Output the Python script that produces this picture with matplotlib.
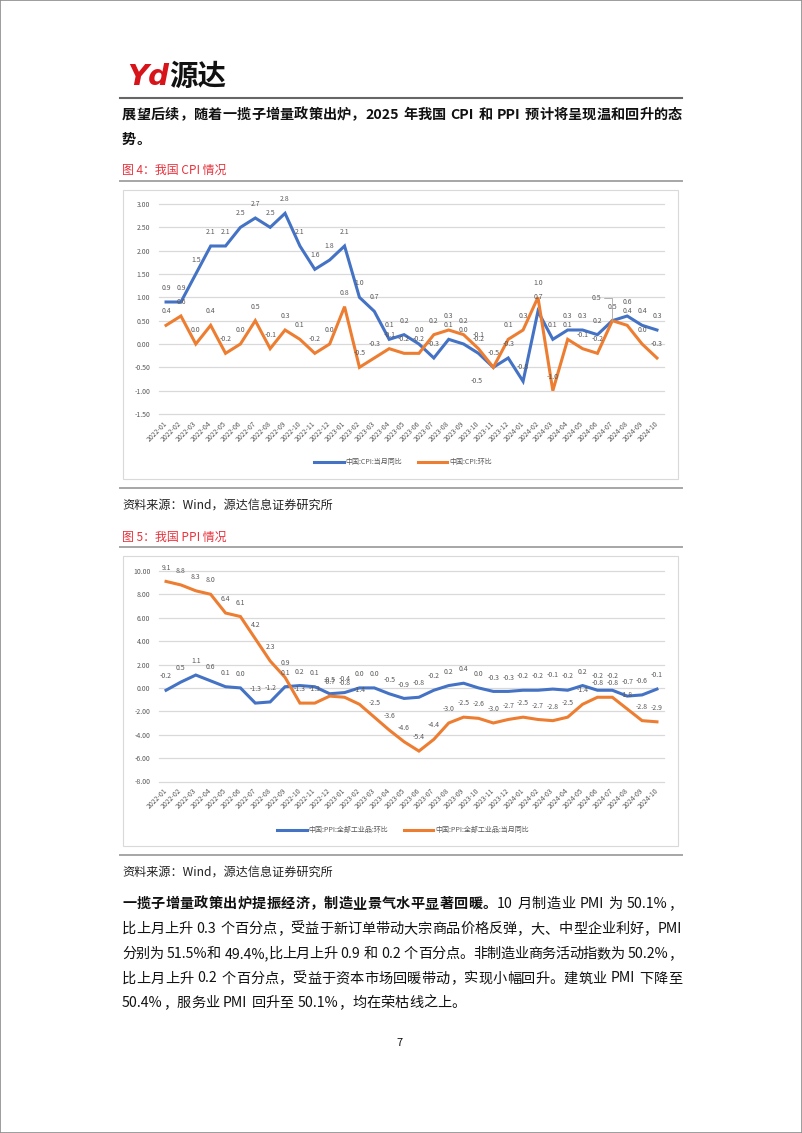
import re
import matplotlib
matplotlib.use('Agg')
import matplotlib.pyplot as plt
from matplotlib.patches import Rectangle
from matplotlib.lines import Line2D

plt.rcParams['font.family'] = ['Noto Sans CJK SC', 'DejaVu Sans']

W, H = 802, 1133  # page size in px

months = ['2022-01', '2022-02', '2022-03', '2022-04', '2022-05', '2022-06',
          '2022-07', '2022-08', '2022-09', '2022-10', '2022-11', '2022-12',
          '2023-01', '2023-02', '2023-03', '2023-04', '2023-05', '2023-06',
          '2023-07', '2023-08', '2023-09', '2023-10', '2023-11', '2023-12',
          '2024-01', '2024-02', '2024-03', '2024-04', '2024-05', '2024-06',
          '2024-07', '2024-08', '2024-09', '2024-10']

# CPI
cpi_yoy = [0.9, 0.9, 1.5, 2.1, 2.1, 2.5, 2.7, 2.5, 2.8, 2.1, 1.6, 1.8,
           2.1, 1.0, 0.7, 0.1, 0.2, 0.0, -0.3, 0.1, 0.0, -0.2, -0.5, -0.3,
           -0.8, 0.7, 0.1, 0.3, 0.3, 0.2, 0.5, 0.6, 0.4, 0.3]
cpi_mom = [0.4, 0.6, 0.0, 0.4, -0.2, 0.0, 0.5, -0.1, 0.3, 0.1, -0.2, 0.0,
           0.8, -0.5, -0.3, -0.1, -0.2, -0.2, 0.2, 0.3, 0.2, -0.1, -0.5, 0.1,
           0.3, 1.0, -1.0, 0.1, -0.1, -0.2, 0.5, 0.4, 0.0, -0.3]
cpi_names = ['中国:CPI:当月同比', '中国:CPI:环比']

# PPI
ppi_mom = [-0.2, 0.5, 1.1, 0.6, 0.1, 0.0, -1.3, -1.2, 0.1, 0.2, 0.1, -0.5,
           -0.4, 0.0, 0.0, -0.5, -0.9, -0.8, -0.2, 0.2, 0.4, 0.0, -0.3, -0.3,
           -0.2, -0.2, -0.1, -0.2, 0.2, -0.2, -0.2, -0.7, -0.6, -0.1]
ppi_yoy = [9.1, 8.8, 8.3, 8.0, 6.4, 6.1, 4.2, 2.3, 0.9, -1.3, -1.3, -0.7,
           -0.8, -1.4, -2.5, -3.6, -4.6, -5.4, -4.4, -3.0, -2.5, -2.6, -3.0, -2.7,
           -2.5, -2.7, -2.8, -2.5, -1.4, -0.8, -0.8, -1.8, -2.8, -2.9]
ppi_names = ['中国:PPI:全部工业品:环比', '中国:PPI:全部工业品:当月同比']

cpi_ticks = [-1.5, -1.0, -0.5, 0.0, 0.5, 1.0, 1.5, 2.0, 2.5, 3.0]
ppi_ticks = [-8, -6, -4, -2, 0, 2, 4, 6, 8, 10]

BLUE = '#4472C4'
ORANGE = '#ED7D31'
GREY = '#595959'
RED = '#e8323c'

fig = plt.figure(figsize=(W / 100, H / 100), dpi=100)


def fx(x):
    return x / W


def fy(y):
    return 1 - y / H


def hline(y, color, lw, x0=120, x1=682):
    fig.add_artist(Line2D([fx(x0), fx(x1)], [fy(y), fy(y)], color=color, lw=lw))


def box(x0, y0, x1, y1):
    fig.add_artist(Rectangle((fx(x0), fy(y1)), (x1 - x0) / W, (y1 - y0) / H,
                             fill=False, edgecolor='#d9d9d9', lw=0.8))


renderer = fig.canvas.get_renderer()


def text_line(y, parts, justify=True, x0=122, x1=682, size=10.2):
    # lays one line of text token by token, spread out to fill x0..x1
    toks = []
    for s, bold in parts:
        for t in re.findall(r'[A-Za-z0-9.%,]+| |.', s):
            toks.append((t, bold))
    items = []
    total = 0
    for t, bold in toks:
        if t == ' ':
            items.append((None, size * 100 / 72 * 0.28))
        else:
            a = fig.text(0, fy(y), t, fontsize=size, color='#111111',
                         weight='bold' if bold else 'normal', va='baseline')
            items.append((a, a.get_window_extent(renderer).width))
        total += items[-1][1]
    gap = (x1 - x0 - total) / (len(items) - 1) if justify else 0
    x = x0
    for a, w in items:
        if a is not None:
            a.set_x(fx(x))
        x += w + gap


def draw_chart(rect_px, series, colors, names, ticks, ylim, fmt, legend_y, overrides):
    x0, y0, x1, y1 = rect_px
    ax = fig.add_axes([fx(x0), fy(y1), (x1 - x0) / W, (y1 - y0) / H])
    xs = range(len(months))
    for k, (vals, c, name) in enumerate(zip(series, colors, names)):
        ax.plot(xs, vals, color=c, lw=2.2, label=name, solid_joinstyle='miter')
        for i, v in enumerate(vals):
            off, leader = overrides.get((k, i), ((0, 10), False))
            kw = {}
            if leader:
                kw['arrowprops'] = dict(arrowstyle='-', color='#a6a6a6', lw=0.6,
                                        shrinkA=0, shrinkB=0,
                                        connectionstyle='angle,angleA=0,angleB=90')
            ax.annotate(f'{v:.1f}', (i, v), xytext=off, textcoords='offset points',
                        ha='center', va='center', fontsize=5, color=GREY, **kw)
    ax.set_xlim(-0.5, len(months) - 0.5)
    ax.set_ylim(*ylim)
    ax.set_yticks(ticks)
    ax.set_yticklabels([fmt.format(t) for t in ticks])
    ax.set_xticks(list(xs))
    ax.set_xticklabels(months, rotation=45, ha='right', va='center',
                       rotation_mode='anchor')
    ax.tick_params(axis='both', length=0, labelsize=5, labelcolor=GREY)
    ax.tick_params(axis='y', pad=6)
    ax.tick_params(axis='x', pad=6)
    ax.grid(axis='y', color='#d9d9d9', lw=0.9)
    for gl in ax.get_ygridlines():
        gl.set_clip_on(False)
    ax.set_axisbelow(True)
    for s in ax.spines.values():
        s.set_visible(False)
    ax.patch.set_alpha(0)
    ax.legend(loc='center', bbox_to_anchor=(fx(403), fy(legend_y)),
              bbox_transform=fig.transFigure, ncol=2, frameon=False,
              fontsize=5, labelcolor=GREY, handlelength=4.2, columnspacing=2.2,
              handletextpad=0.3)
    return ax


# page frame
fig.add_artist(Rectangle((0, 0), 1, 1, fill=False, edgecolor='#8c8c8c', lw=1.2))

# logo
fig.text(fx(127), fy(77), 'Yd', color='#d7141a', fontsize=21, weight='heavy',
         style='italic', family='DejaVu Sans', va='center')
fig.text(fx(169), fy(77), '源达', color='#111111', fontsize=20.5, weight='heavy',
         va='center')
hline(97.7, '#666666', 1.5)

text_line(119, [('展望后续，随着一揽子增量政策出炉，2025 年我国 CPI 和 PPI 预计将呈现温和回升的态', True)])
text_line(144, [('势。', True)], justify=False)

# figure 4
fig.text(fx(122), fy(170), '图 4：我国 CPI 情况', color=RED, fontsize=8.6, va='center')
hline(181, '#a6a6a6', 1.4)
box(123, 190, 678, 479)
draw_chart((158.6, 204, 664.4, 414), [cpi_yoy, cpi_mom], [BLUE, ORANGE], cpi_names,
           cpi_ticks, (-1.5, 3.0), '{:.2f}', 462,
           {(0, 22): ((-12, -9.6), False), (0, 30): ((-11.3, 16.6), True)})
hline(487.5, '#a6a6a6', 1.4)
fig.text(fx(122), fy(505), '资料来源：Wind，源达信息证券研究所', color='#222222',
         fontsize=8.7, va='center')

# figure 5
fig.text(fx(122), fy(537), '图 5：我国 PPI 情况', color=RED, fontsize=8.6, va='center')
hline(547.3, '#a6a6a6', 1.4)
box(123, 556, 678, 846)
draw_chart((158.6, 570.9, 664.4, 781.5), [ppi_mom, ppi_yoy], [BLUE, ORANGE], ppi_names,
           ppi_ticks, (-8, 10), '{:.2f}', 830, {})
hline(855, '#a6a6a6', 1.4)
fig.text(fx(122), fy(872.5), '资料来源：Wind，源达信息证券研究所', color='#222222',
         fontsize=8.7, va='center')

# closing paragraph
text_line(908, [('一揽子增量政策出炉提振经济，制造业景气水平显著回暖。', True),
                ('10 月制造业 PMI 为 50.1%，', False)])
text_line(933, [('比上月上升 0.3 个百分点，受益于新订单带动大宗商品价格反弹，大、中型企业利好，PMI', False)])
text_line(958, [('分别为 51.5%和 49.4%,比上月上升 0.9 和 0.2 个百分点。非制造业商务活动指数为 50.2%，', False)])
text_line(982.5, [('比上月上升 0.2 个百分点，受益于资本市场回暖带动，实现小幅回升。建筑业 PMI 下降至', False)])
text_line(1007, [('50.4%，服务业 PMI 回升至 50.1%，均在荣枯线之上。', False)], justify=False)

fig.text(fx(400), fy(1043), '7', fontsize=8, color='#111111', ha='center', va='center')

fig.savefig('out.png', dpi=100)
